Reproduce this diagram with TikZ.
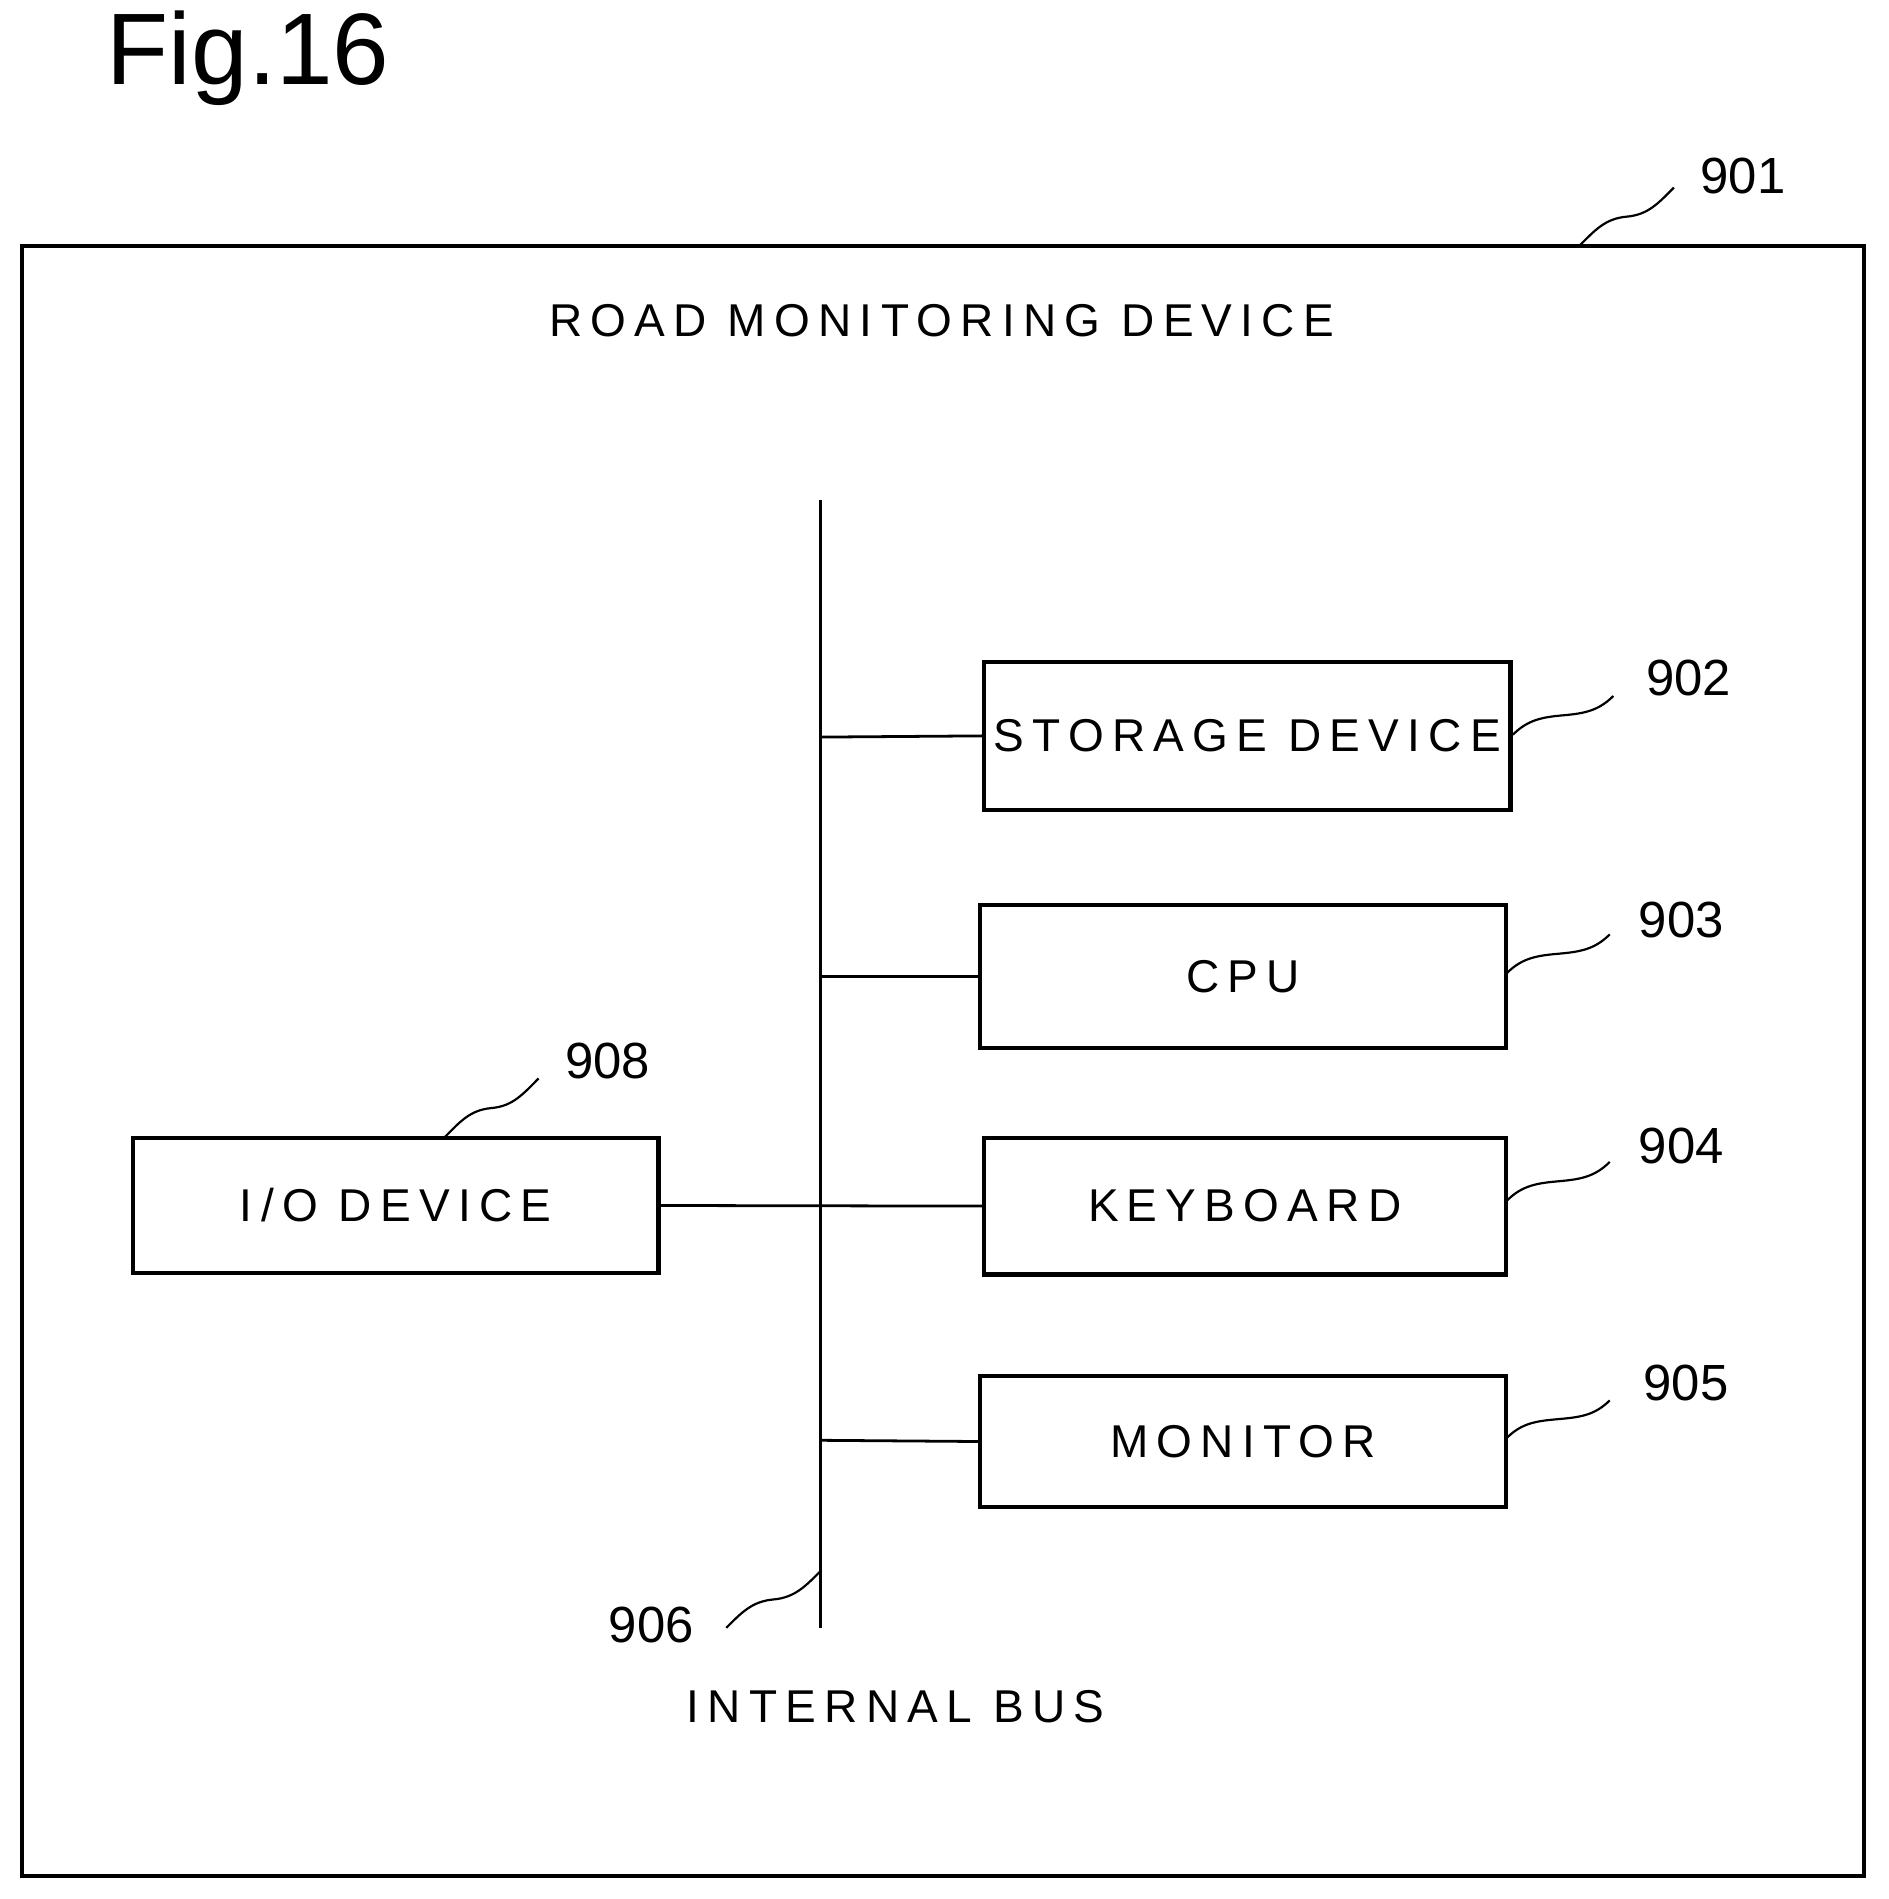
\documentclass[tikz,border=0pt]{standalone}
\usetikzlibrary{calc}
\usepackage{fontspec}
\setmainfont{Liberation Sans}
\newfontfamily\spaced[LetterSpace=18]{Liberation Sans}
\begin{document}
\begin{tikzpicture}[x=1pt,y=-1pt,
  box/.style={draw,line width=3.5pt},
  wire/.style={line width=2.3pt},
  lbl/.style={font=\spaced\fontsize{38}{40}\selectfont},
  num/.style={font=\fontsize{42}{44}\selectfont},
  sq/.style={line width=1.8pt}]
\useasboundingbox (0,0) rectangle (1560,1569);
\draw[box] (18,203) rectangle (1540,1550);
\node (fig) at (205,48) {\fontsize{84}{86}\selectfont Fig.16};
\node[lbl] (title) at (778,265) {ROAD MONITORING DEVICE};
\coordinate (bt) at (678,413); \coordinate (bb) at (678,1345);
\draw[wire] (bt) -- (bb);
\node[box,minimum width=435pt,minimum height=122pt,lbl] (st) at (1030.5,608) {STORAGE DEVICE};
\node[box,minimum width=434pt,minimum height=118pt,lbl] (cpu) at (1027,807) {CPU};
\node[box,minimum width=431pt,minimum height=113pt,lbl] (kb) at (1028.5,996.5) {KEYBOARD};
\node[box,minimum width=434pt,minimum height=108pt,lbl] (mon) at (1027,1191) {MONITOR};
\node[box,minimum width=434pt,minimum height=112pt,lbl] (io) at (327,996) {I/O DEVICE};
\draw[wire] (678,609) -- (st.west);
\draw[wire] (678,807) -- (cpu.west);
\draw[wire] (io.east) -- (kb.west);
\draw[wire] (678,1190) -- (mon.west);
\node[lbl] (ib) at (740,1410) {INTERNAL BUS};
\node[num] (n901) at (1440,145) {901};
\node[num] (n902) at (1395,560) {902};
\node[num] (n903) at (1389,760) {903};
\node[num] (n904) at (1389,947) {904};
\node[num] (n905) at (1393,1143) {905};
\node[num] (n908) at (502,877) {908};
\node[num] (n906) at (538,1343) {906};
\foreach \a/\b in {{1305,203}/{1383,155},{1250,607}/{1333,575},{1245,804}/{1330,772},{1245,992}/{1330,960},{1245,1188}/{1330,1157},{367,940}/{445,891},{600,1345}/{678,1298}}{
  \draw[sq] (\a) to[out=45,in=185] ($(\a)!0.5!(\b)$) to[out=5,in=225] (\b);
}
\end{tikzpicture}
\end{document}
